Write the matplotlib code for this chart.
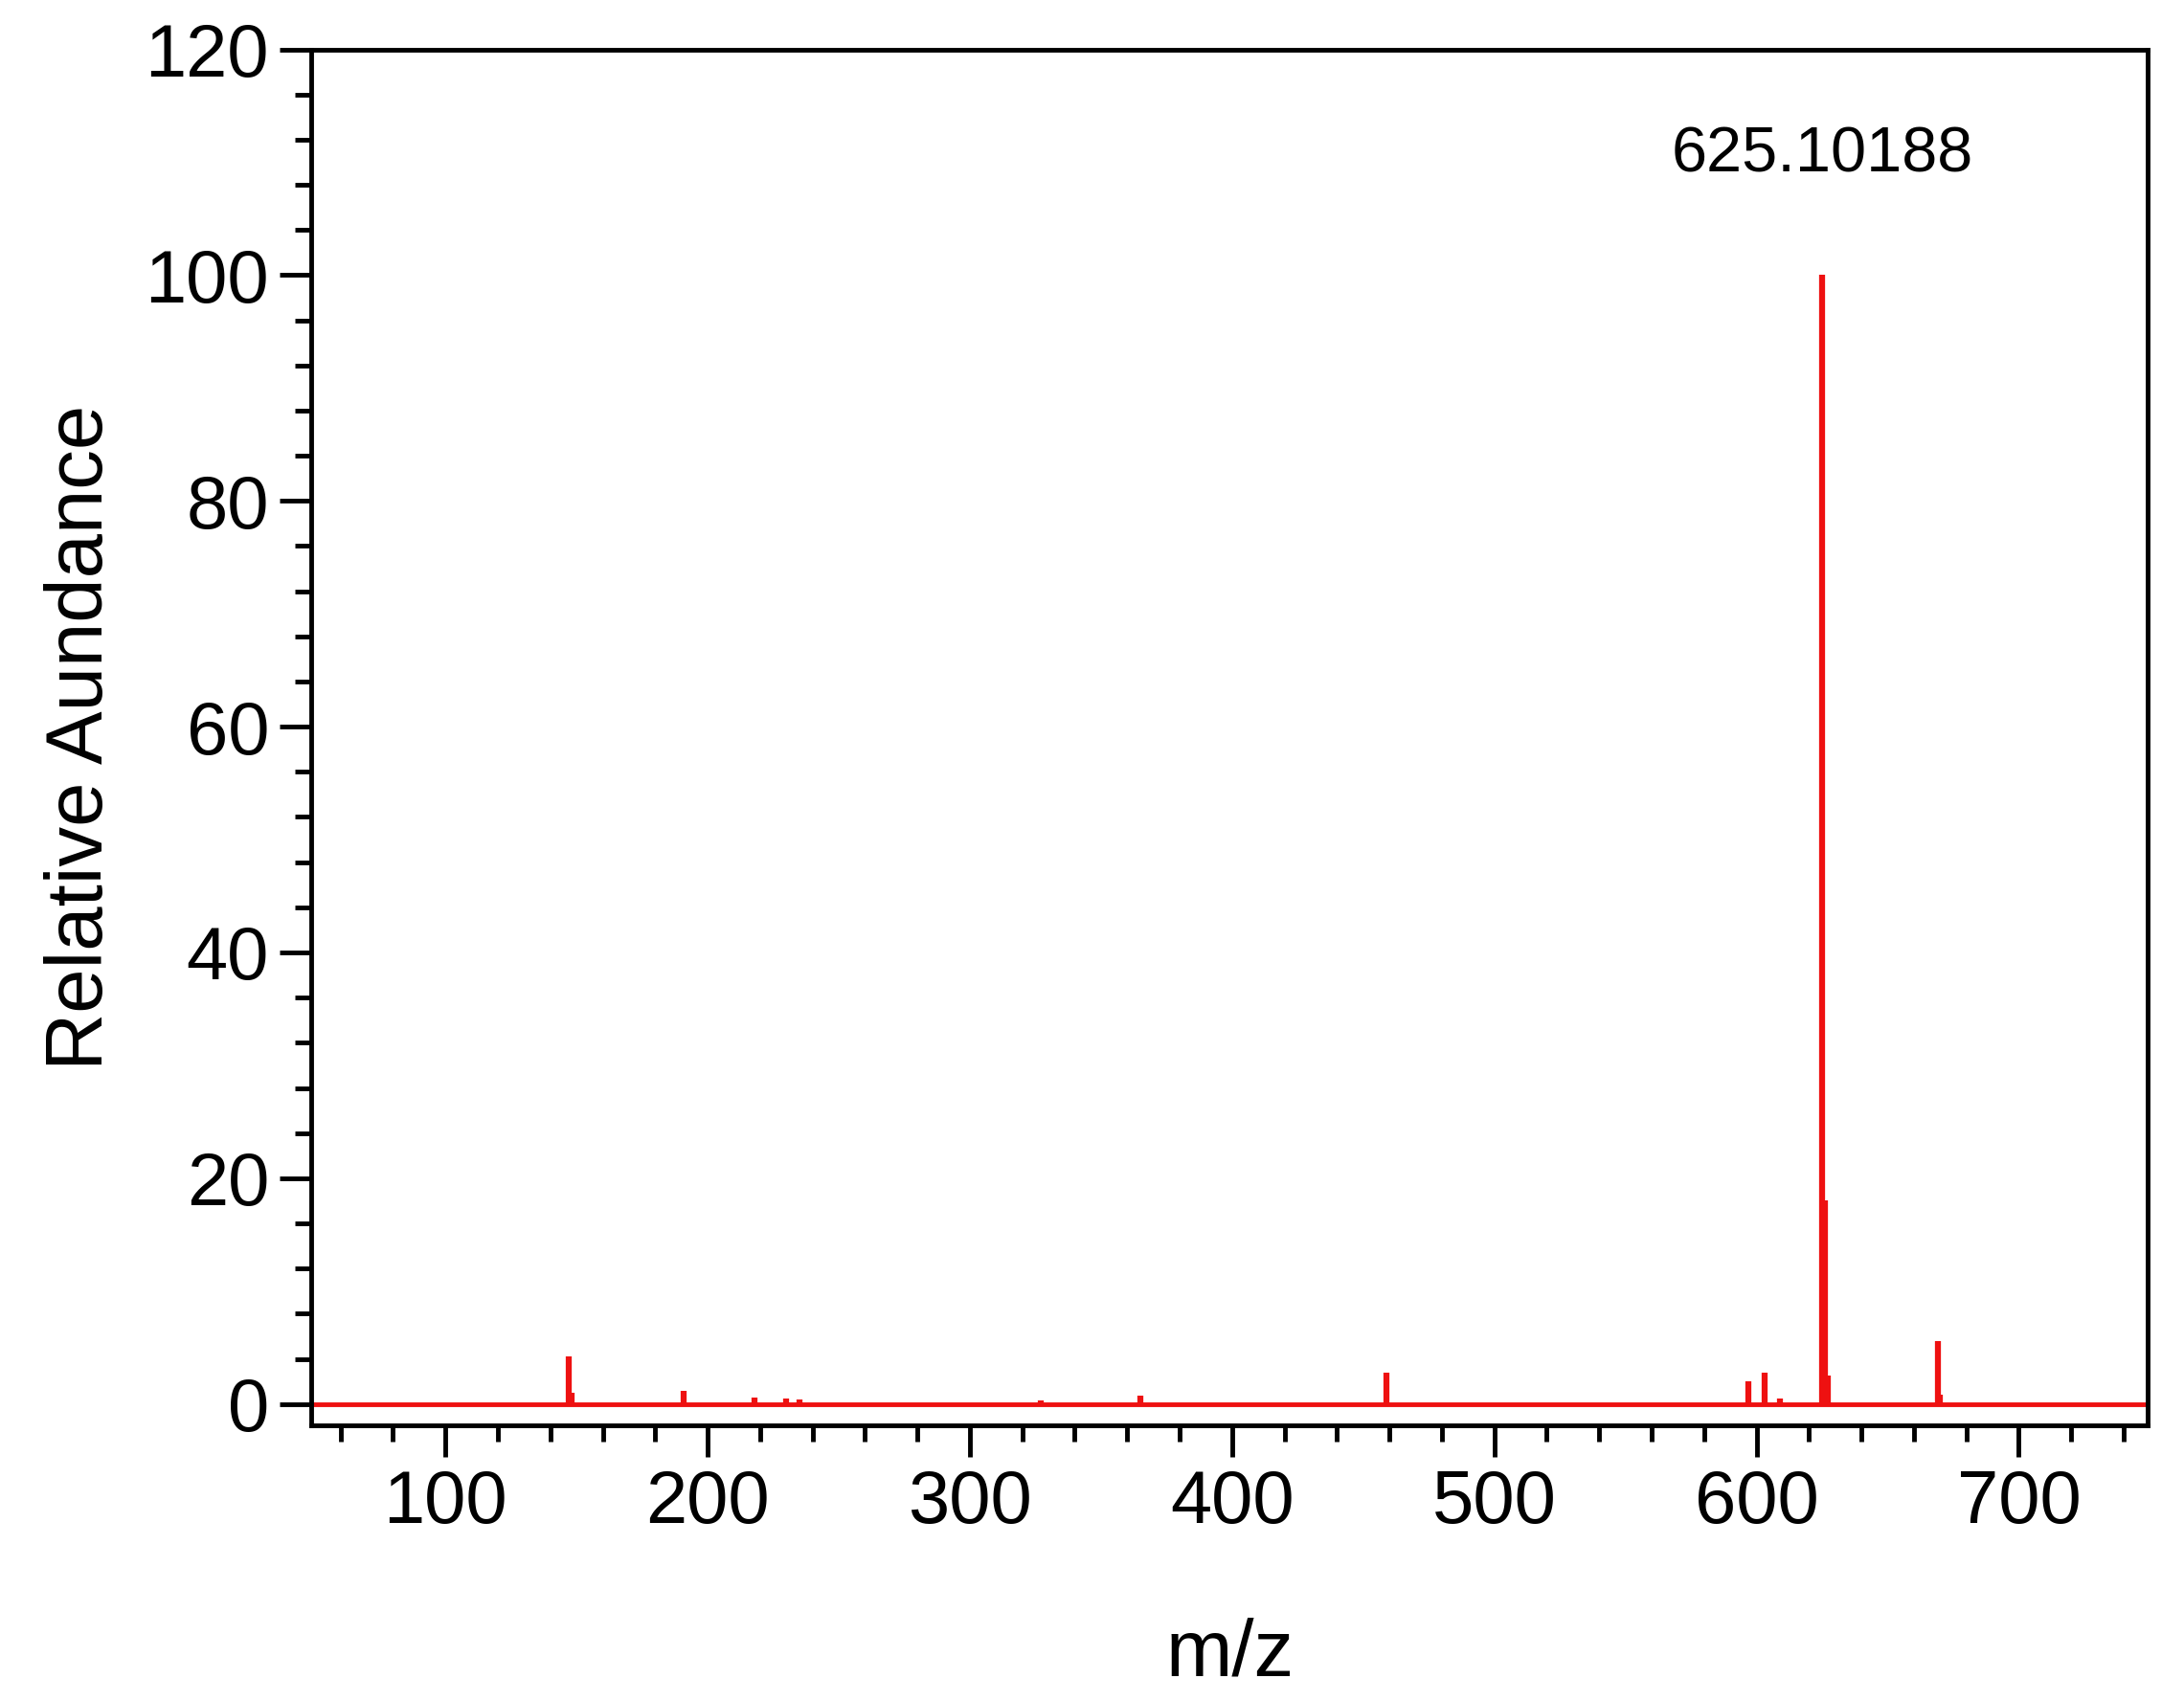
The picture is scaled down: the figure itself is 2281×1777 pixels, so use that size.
import matplotlib
matplotlib.use("Agg")
import matplotlib.pyplot as plt
from matplotlib.ticker import MultipleLocator

mz = [147.0, 148.0, 191.0, 218.0, 230.0, 235.0, 327.0, 365.0, 459.0, 597.0, 603.0, 609.0, 625.10188, 626.1, 627.1, 669.0, 670.0]
ab = [4.2, 1.0, 1.2, 0.6, 0.5, 0.4, 0.3, 0.7, 2.8, 2.0, 2.8, 0.5, 100.0, 18.0, 2.5, 5.6, 0.8]

plt.rcParams['font.family'] = ['Liberation Sans', 'DejaVu Sans']
fig = plt.figure(figsize=(22.81, 17.77), dpi=100)
ax = fig.add_axes([0.1427, 0.162, 0.8405, 0.809])
red = '#ee1111'
ax.axhline(0, color=red, lw=3.5)
ax.vlines(mz, 0, ab, color=red, lw=4.5)
ax.set_xlim(49, 749)
ax.set_ylim(-1.9, 120)
ax.xaxis.set_major_locator(MultipleLocator(100))
ax.xaxis.set_minor_locator(MultipleLocator(20))
ax.yaxis.set_major_locator(MultipleLocator(20))
ax.yaxis.set_minor_locator(MultipleLocator(4))
ax.tick_params(which='major', length=24, width=3.5, labelsize=56, direction='out', pad=8)
ax.tick_params(which='minor', length=12, width=3.5, direction='out')
for s in ax.spines.values():
    s.set_linewidth(3.5)
ax.set_xlabel('m/z', fontsize=60, labelpad=60)
ax.set_ylabel('Relative Aundance', fontsize=60, labelpad=20)
ax.text(625.10188, 108, '625.10188', fontsize=48, ha='center', va='bottom')
fig.savefig('out.png', dpi=100)
